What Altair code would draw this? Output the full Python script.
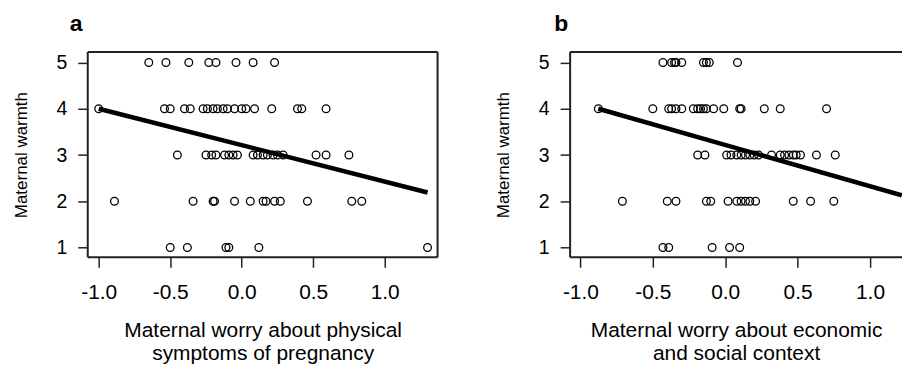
import altair as alt
import pandas as pd

# ---------------- Panel a: physical symptoms ----------------
a_x_w5 = [-0.65, -0.53, -0.37, -0.23, -0.18, -0.04, 0.08, 0.23]
a_x_w4 = [-1.0, -0.54, -0.50, -0.40, -0.36, -0.27, -0.24, -0.20, -0.17, -0.13,
          -0.10, -0.05, 0.00, 0.03, 0.09, 0.21, 0.39, 0.42, 0.59]
a_x_w3 = [-0.45, -0.25, -0.21, -0.18, -0.12, -0.09, -0.06, -0.03, 0.08, 0.11,
          0.15, 0.18, 0.22, 0.25, 0.29, 0.52, 0.59, 0.75]
a_x_w2 = [-0.89, -0.34, -0.20, -0.19, -0.05, 0.06, 0.15, 0.17, 0.23, 0.27,
          0.46, 0.77, 0.84]
a_x_w1 = [-0.50, -0.38, -0.11, -0.09, 0.12, 1.30]
a_line_x = [-1.0, 1.30]
a_line_y = [4.0, 2.19]

# ---------------- Panel b: economic and social context ----------------
b_x_w5 = [-0.43, -0.37, -0.35, -0.34, -0.30, -0.15, -0.13, -0.11, 0.085]
b_x_w4 = [-0.876, -0.50, -0.39, -0.37, -0.34, -0.30, -0.22, -0.19, -0.17, -0.15,
          -0.13, -0.08, -0.01, 0.10, 0.11, 0.27, 0.38, 0.70]
b_x_w3 = [-0.19, -0.14, 0.01, 0.04, 0.08, 0.11, 0.14, 0.17, 0.20, 0.23,
          0.32, 0.38, 0.41, 0.44, 0.47, 0.49, 0.52, 0.63, 0.76]
b_x_w2 = [-0.71, -0.40, -0.34, -0.13, -0.10, 0.02, 0.08, 0.11, 0.14, 0.17,
          0.21, 0.47, 0.59, 0.75]
b_x_w1 = [-0.43, -0.39, -0.09, 0.03, 0.10, 1.26]
b_line_x = [-0.876, 1.22]
b_line_y = [4.0, 2.128]

warmth_levels = [5, 4, 3, 2, 1]
x_ticks = [-1.0, -0.5, 0.0, 0.5, 1.0]
y_ticks = [1, 2, 3, 4, 5]
y_title = "Maternal warmth"
a_xtitle = ["Maternal worry about physical", "symptoms of pregnancy"]
b_xtitle = ["Maternal worry about economic", "and social context"]

FONT = "Liberation Sans"
Y_DOM = [0.79, 5.228]
A_XDOM = [-1.077, 1.37]
B_XDOM = [-1.071, 1.221]


def points_df(rows):
    recs = []
    for lvl, xs in zip(warmth_levels, rows):
        for v in xs:
            recs.append({"x": v, "y": lvl})
    return pd.DataFrame(recs)


def frame_df(xdom, sides):
    x0, x1 = xdom
    y0, y1 = Y_DOM
    segs = {
        "top": (x0, x1, y1, y1),
        "bottom": (x0, x1, y0, y0),
        "left": (x0, x0, y0, y1),
        "right": (x1, x1, y0, y1),
    }
    return pd.DataFrame([dict(zip(["bx", "bx2", "by", "by2"], segs[s])) for s in sides])


a_df = points_df([a_x_w5, a_x_w4, a_x_w3, a_x_w2, a_x_w1])
b_df = points_df([b_x_w5, b_x_w4, b_x_w3, b_x_w2, b_x_w1])
a_line = pd.DataFrame({"x": a_line_x, "y": a_line_y})
b_line = pd.DataFrame({"x": b_line_x, "y": b_line_y})

X_LABEL_EXPR = ("datum.value < 0 ? '-' + format(-datum.value, '.1f') "
                ": format(datum.value, '.1f')")


def panel(df, line_df, box_df, xdom, width, label, label_dx, xtitle):
    xenc = alt.X("x:Q", scale=alt.Scale(domain=xdom, nice=False, zero=False),
                 axis=alt.Axis(values=x_ticks, labelExpr=X_LABEL_EXPR, title=xtitle,
                               labelFontSize=21, titleFontSize=21,
                               titleLineHeight=23, labelPadding=14,
                               titlePadding=18))
    yenc = alt.Y("y:Q", scale=alt.Scale(domain=Y_DOM, nice=False, zero=False),
                 axis=alt.Axis(values=y_ticks, format="d", title=y_title,
                               labelFontSize=19.5, titleFontSize=17,
                               labelPadding=11, titlePadding=25.5))
    box = alt.Chart(box_df).mark_rule(color="#222222", strokeWidth=2).encode(
        x=alt.X("bx:Q"), x2="bx2:Q", y=alt.Y("by:Q"), y2="by2:Q")
    # points lying beyond the visible right edge of the panel are left out
    pts = alt.Chart(df).transform_filter(
        alt.datum.x <= xdom[1]
    ).mark_point(shape="circle", filled=False, color="black",
                 size=60, strokeWidth=1.3, opacity=1,
                 clip=True).encode(x=xenc, y=yenc)
    ln = alt.Chart(line_df).mark_line(color="black", strokeWidth=4.5,
                                      clip=True).encode(x="x:Q", y="y:Q")
    return alt.layer(pts, ln, box).properties(
        width=width, height=206,
        title=alt.TitleParams(label, anchor="start", frame="group", dx=label_dx,
                              fontSize=23, fontWeight="bold", font=FONT,
                              color="black", offset=15))


pa = panel(a_df, a_line, frame_df(A_XDOM, ["top", "bottom", "left", "right"]),
           A_XDOM, 351, "a", -18, a_xtitle)
pb = panel(b_df, b_line, frame_df(B_XDOM, ["top", "bottom", "left"]),
           B_XDOM, 333, "b", -16, b_xtitle)

chart = alt.hconcat(pa, pb, spacing=133, bounds="flush").properties(
    padding={"left": 4, "top": 4.5, "right": 0, "bottom": 0}
).configure_view(stroke=None).configure_axis(
    domain=False, grid=False, tickColor="#222222", tickSize=10, tickWidth=1.5,
    labelColor="black", titleColor="black", labelFont=FONT, titleFont=FONT,
    titleFontWeight="normal"
)

chart.save("out.html", embed_options={"renderer": "svg", "actions": False})
